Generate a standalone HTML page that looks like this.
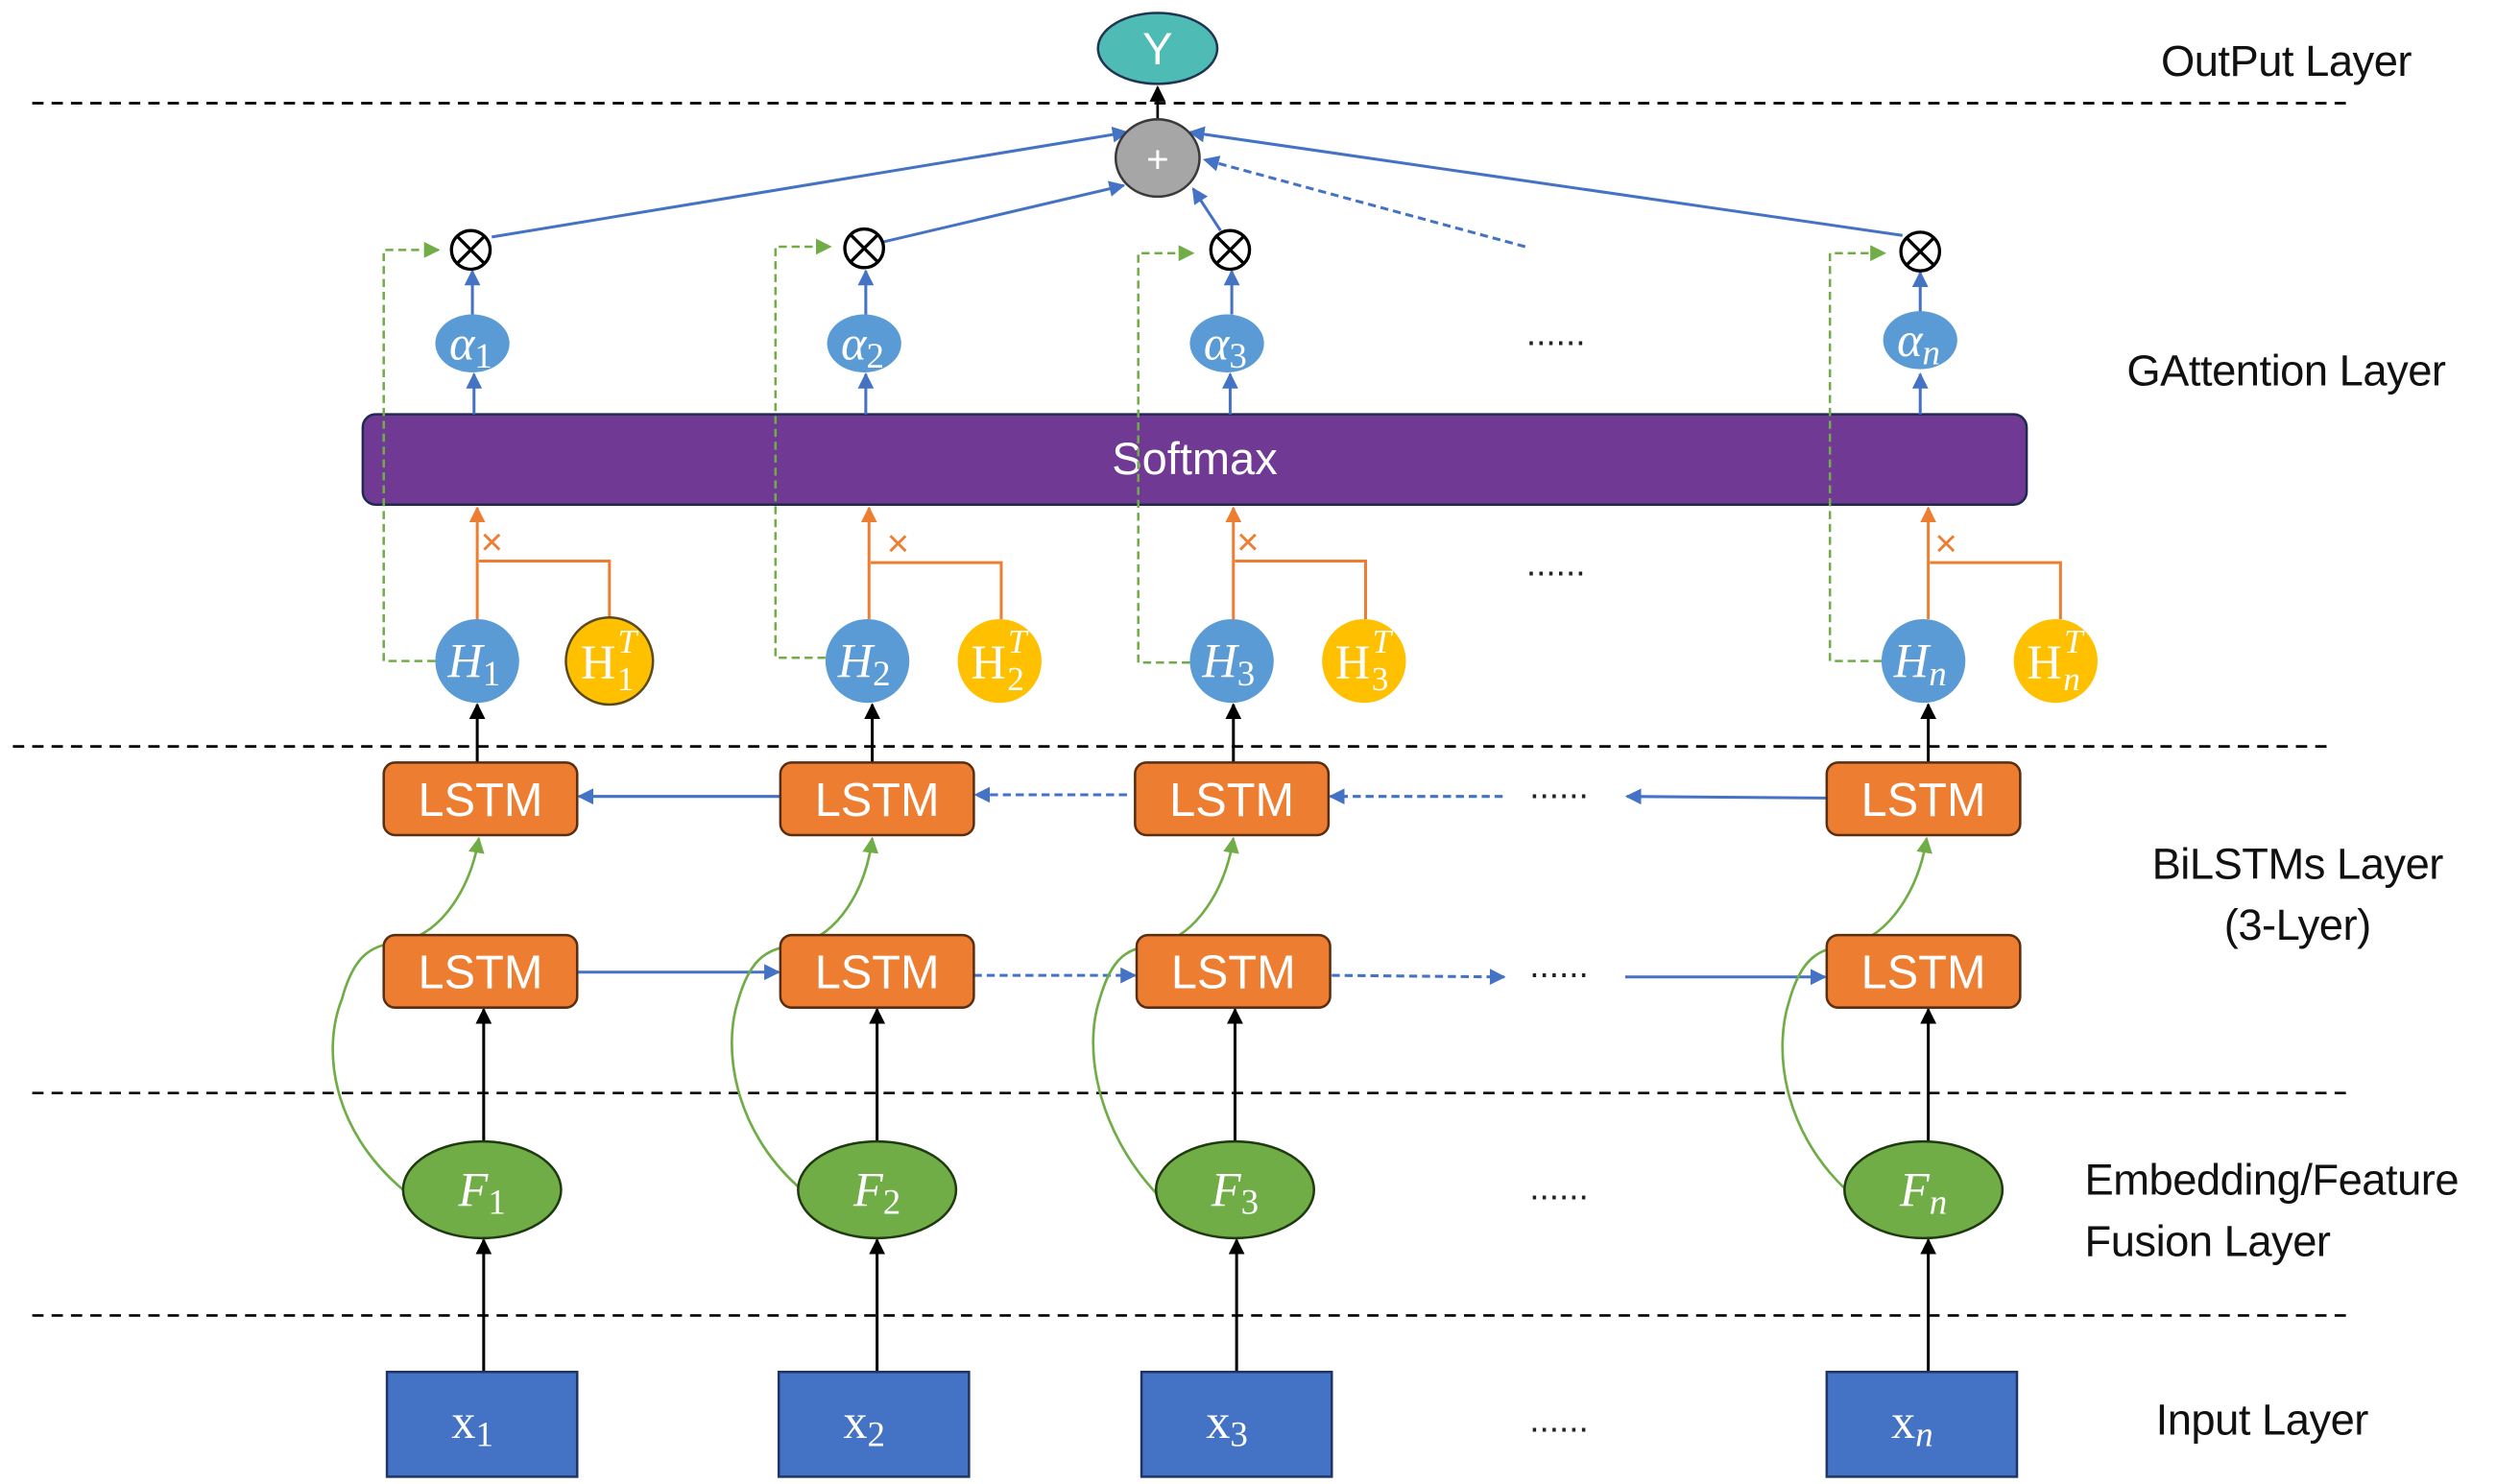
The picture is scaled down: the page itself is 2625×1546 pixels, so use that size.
<!DOCTYPE html>
<html><head><meta charset="utf-8"><style>
html,body{margin:0;padding:0;background:#fff;}
svg{display:block;}
text{font-family:"Liberation Sans","DejaVu Sans",sans-serif;}
.m{font-family:"Liberation Serif","DejaVu Serif",serif;font-style:italic;fill:#fff;}
.r{font-family:"Liberation Serif","DejaVu Serif",serif;fill:#fff;}
.lab{font-size:27px;fill:#111;letter-spacing:-0.3px;}
.dots{font-size:22px;fill:#222;}
.lstm{font-size:29px;fill:#fff;}
</style></head><body>
<svg width="2625" height="1546" viewBox="0 0 1563 920.5" xmlns="http://www.w3.org/2000/svg">
<defs>
<marker id="ak" markerWidth="10" markerHeight="10" refX="9" refY="5" orient="auto" markerUnits="userSpaceOnUse"><path d="M0,0 L10,5 L0,10 z" fill="#000"/></marker>
<marker id="ab" markerWidth="10" markerHeight="10" refX="9" refY="5" orient="auto" markerUnits="userSpaceOnUse"><path d="M0,0 L10,5 L0,10 z" fill="#4472c4"/></marker>
<marker id="ao" markerWidth="10" markerHeight="10" refX="9" refY="5" orient="auto" markerUnits="userSpaceOnUse"><path d="M0,0 L10,5 L0,10 z" fill="#ed7d31"/></marker>
<marker id="ag" markerWidth="10" markerHeight="10" refX="9" refY="5" orient="auto" markerUnits="userSpaceOnUse"><path d="M0,0 L10,5 L0,10 z" fill="#70ad47"/></marker>
</defs>
<g stroke="#000" stroke-width="1.6" stroke-dasharray="7,5">
<line x1="20" y1="64" x2="1460" y2="64"/>
<line x1="8" y1="463" x2="1448" y2="463"/>
<line x1="20" y1="678" x2="1460" y2="678"/>
<line x1="20" y1="816" x2="1460" y2="816"/>
</g>
<text class="lab" x="1418" y="47" text-anchor="middle">OutPut Layer</text>
<text class="lab" x="1418" y="239" text-anchor="middle">GAttention Layer</text>
<text class="lab" x="1425" y="545" text-anchor="middle">BiLSTMs Layer</text>
<text class="lab" x="1425" y="583" text-anchor="middle">(3-Lyer)</text>
<text class="lab" x="1293" y="741">Embedding/Feature</text>
<text class="lab" x="1293" y="779">Fusion Layer</text>
<text class="lab" x="1403" y="890" text-anchor="middle">Input Layer</text>
<g class="dots" text-anchor="middle">
<text x="965" y="214">......</text><text x="965" y="357">......</text>
<text x="967" y="495">......</text><text x="967" y="606">......</text>
<text x="967" y="744">......</text><text x="967" y="888">......</text>
</g>
<line x1="718" y1="74" x2="718" y2="54" stroke="#000" stroke-width="1.6" marker-end="url(#ak)"/>
<ellipse cx="718" cy="30" rx="37" ry="22" fill="#4fbbb5" stroke="#1f3552" stroke-width="1.5"/>
<text x="718" y="40" text-anchor="middle" font-size="28" fill="#fff">Y</text>
<g stroke="#4472c4" stroke-width="1.8" fill="none">
<line x1="305" y1="147" x2="699" y2="82" marker-end="url(#ab)"/>
<line x1="548" y1="150" x2="697" y2="115" marker-end="url(#ab)"/>
<line x1="757" y1="143" x2="740" y2="117" marker-end="url(#ab)"/>
<line x1="946" y1="153" x2="747" y2="99" stroke-dasharray="5,3" marker-end="url(#ab)"/>
<line x1="1180" y1="146" x2="738" y2="82" marker-end="url(#ab)"/>
</g>
<ellipse cx="718" cy="98" rx="26" ry="24" fill="#a6a6a6" stroke="#3a3a3a" stroke-width="1.5"/>
<text x="718" y="107" text-anchor="middle" font-size="24" fill="#fff">+</text>
<rect x="225" y="257" width="1032" height="56" rx="8" fill="#6f3994" stroke="#1f2a50" stroke-width="1.5"/>
<text x="741" y="294" text-anchor="middle" font-size="28" fill="#fff">Softmax</text>
<!-- col1 -->
<path d="M270,410 H238 V155 H272" fill="none" stroke="#70ad47" stroke-width="1.5" stroke-dasharray="5,3" marker-end="url(#ag)"/>
<line x1="293" y1="195" x2="293" y2="168" stroke="#4472c4" stroke-width="1.8" marker-end="url(#ab)"/>
<line x1="294" y1="257" x2="294" y2="232" stroke="#4472c4" stroke-width="1.8" marker-end="url(#ab)"/>
<circle cx="292" cy="155" r="12" fill="#fff" stroke="#000" stroke-width="2"/>
<path d="M283.5,146.5 L300.5,163.5 M300.5,146.5 L283.5,163.5" stroke="#000" stroke-width="2"/>
<ellipse cx="293" cy="213" rx="23" ry="18" fill="#5b9bd5"/>
<text class="m" x="292" y="223" text-anchor="middle" font-size="30">α<tspan font-size="22" font-style="normal" dy="5">1</tspan></text>
<line x1="296" y1="384" x2="296" y2="315" stroke="#ed7d31" stroke-width="1.8" marker-end="url(#ao)"/>
<path d="M297,348 H378 V384" fill="none" stroke="#ed7d31" stroke-width="1.8"/>
<text x="305" y="344" text-anchor="middle" font-size="24" fill="#ed7d31">×</text>
<ellipse cx="296" cy="410" rx="26" ry="26" fill="#5b9bd5"/>
<text class="m" x="294" y="420" text-anchor="middle" font-size="30">H<tspan font-size="22" font-style="normal" dy="5">1</tspan></text>
<ellipse cx="378" cy="410" rx="27" ry="27" fill="#ffc000" stroke="#5a4a20" stroke-width="1.5"/>
<text class="r" x="371" y="421" text-anchor="middle" font-size="30">H</text><text class="m" x="389" y="405" text-anchor="middle" font-size="21">T</text><text class="r" x="388" y="428" text-anchor="middle" font-size="21">1</text>
<!-- col2 -->
<path d="M512,408 H481 V153 H515" fill="none" stroke="#70ad47" stroke-width="1.5" stroke-dasharray="5,3" marker-end="url(#ag)"/>
<line x1="537" y1="195" x2="537" y2="168" stroke="#4472c4" stroke-width="1.8" marker-end="url(#ab)"/>
<line x1="537" y1="257" x2="537" y2="232" stroke="#4472c4" stroke-width="1.8" marker-end="url(#ab)"/>
<circle cx="536" cy="154" r="12" fill="#fff" stroke="#000" stroke-width="2"/>
<path d="M527.5,145.5 L544.5,162.5 M544.5,145.5 L527.5,162.5" stroke="#000" stroke-width="2"/>
<ellipse cx="536" cy="213" rx="23" ry="18" fill="#5b9bd5"/>
<text class="m" x="535" y="223" text-anchor="middle" font-size="30">α<tspan font-size="22" font-style="normal" dy="5">2</tspan></text>
<line x1="539" y1="384" x2="539" y2="315" stroke="#ed7d31" stroke-width="1.8" marker-end="url(#ao)"/>
<path d="M540,349 H621 V384" fill="none" stroke="#ed7d31" stroke-width="1.8"/>
<text x="557" y="345" text-anchor="middle" font-size="24" fill="#ed7d31">×</text>
<ellipse cx="538" cy="410" rx="26" ry="26" fill="#5b9bd5"/>
<text class="m" x="536" y="420" text-anchor="middle" font-size="30">H<tspan font-size="22" font-style="normal" dy="5">2</tspan></text>
<ellipse cx="620" cy="410" rx="26" ry="26" fill="#ffc000"/>
<text class="r" x="613" y="421" text-anchor="middle" font-size="30">H</text><text class="m" x="631" y="405" text-anchor="middle" font-size="21">T</text><text class="r" x="630" y="428" text-anchor="middle" font-size="21">2</text>
<!-- col3 -->
<path d="M738,411 H706 V157 H740" fill="none" stroke="#70ad47" stroke-width="1.5" stroke-dasharray="5,3" marker-end="url(#ag)"/>
<line x1="764" y1="195" x2="764" y2="168" stroke="#4472c4" stroke-width="1.8" marker-end="url(#ab)"/>
<line x1="763" y1="257" x2="763" y2="232" stroke="#4472c4" stroke-width="1.8" marker-end="url(#ab)"/>
<circle cx="763" cy="155" r="12" fill="#fff" stroke="#000" stroke-width="2"/>
<path d="M754.5,146.5 L771.5,163.5 M771.5,146.5 L754.5,163.5" stroke="#000" stroke-width="2"/>
<ellipse cx="761" cy="213" rx="23" ry="18" fill="#5b9bd5"/>
<text class="m" x="760" y="223" text-anchor="middle" font-size="30">α<tspan font-size="22" font-style="normal" dy="5">3</tspan></text>
<line x1="765" y1="384" x2="765" y2="315" stroke="#ed7d31" stroke-width="1.8" marker-end="url(#ao)"/>
<path d="M766,348 H847 V384" fill="none" stroke="#ed7d31" stroke-width="1.8"/>
<text x="774" y="344" text-anchor="middle" font-size="24" fill="#ed7d31">×</text>
<ellipse cx="764" cy="410" rx="26" ry="26" fill="#5b9bd5"/>
<text class="m" x="762" y="420" text-anchor="middle" font-size="30">H<tspan font-size="22" font-style="normal" dy="5">3</tspan></text>
<ellipse cx="846" cy="410" rx="26" ry="26" fill="#ffc000"/>
<text class="r" x="839" y="421" text-anchor="middle" font-size="30">H</text><text class="m" x="857" y="405" text-anchor="middle" font-size="21">T</text><text class="r" x="856" y="428" text-anchor="middle" font-size="21">3</text>
<!-- col n -->
<path d="M1167,410 H1135 V157 H1169" fill="none" stroke="#70ad47" stroke-width="1.5" stroke-dasharray="5,3" marker-end="url(#ag)"/>
<line x1="1191" y1="195" x2="1191" y2="169" stroke="#4472c4" stroke-width="1.8" marker-end="url(#ab)"/>
<line x1="1191" y1="257" x2="1191" y2="232" stroke="#4472c4" stroke-width="1.8" marker-end="url(#ab)"/>
<circle cx="1191" cy="156" r="12" fill="#fff" stroke="#000" stroke-width="2"/>
<path d="M1182.5,147.5 L1199.5,164.5 M1199.5,147.5 L1182.5,164.5" stroke="#000" stroke-width="2"/>
<ellipse cx="1191" cy="211" rx="23" ry="18" fill="#5b9bd5"/>
<text class="m" x="1190" y="221" text-anchor="middle" font-size="30">α<tspan font-size="22" dy="5">n</tspan></text>
<line x1="1196" y1="384" x2="1196" y2="315" stroke="#ed7d31" stroke-width="1.8" marker-end="url(#ao)"/>
<path d="M1197,349 H1278 V384" fill="none" stroke="#ed7d31" stroke-width="1.8"/>
<text x="1207" y="345" text-anchor="middle" font-size="24" fill="#ed7d31">×</text>
<ellipse cx="1193" cy="410" rx="26" ry="26" fill="#5b9bd5"/>
<text class="m" x="1191" y="420" text-anchor="middle" font-size="30">H<tspan font-size="22" dy="5">n</tspan></text>
<ellipse cx="1275" cy="410" rx="26" ry="26" fill="#ffc000"/>
<text class="r" x="1268" y="421" text-anchor="middle" font-size="30">H</text><text class="m" x="1286" y="405" text-anchor="middle" font-size="21">T</text><text class="m" x="1285" y="428" text-anchor="middle" font-size="21">n</text>
<g stroke="#000" stroke-width="1.8" marker-end="url(#ak)">
<line x1="296" y1="473" x2="296" y2="437"/><line x1="541" y1="473" x2="541" y2="437"/>
<line x1="765" y1="473" x2="765" y2="437"/><line x1="1196" y1="473" x2="1196" y2="437"/>
<line x1="300" y1="708" x2="300" y2="626"/><line x1="544" y1="708" x2="544" y2="626"/>
<line x1="766" y1="708" x2="766" y2="626"/><line x1="1196" y1="708" x2="1196" y2="626"/>
<line x1="300" y1="851" x2="300" y2="769"/><line x1="544" y1="851" x2="544" y2="769"/>
<line x1="767" y1="851" x2="767" y2="769"/><line x1="1196" y1="851" x2="1196" y2="769"/>
</g>
<g stroke="#4472c4" stroke-width="1.8" fill="none" marker-end="url(#ab)">
<line x1="484" y1="494" x2="359" y2="494"/>
<line x1="699" y1="493" x2="605" y2="493" stroke-dasharray="5,3"/>
<line x1="932" y1="494" x2="825" y2="494" stroke-dasharray="5,3"/>
<line x1="1133" y1="495" x2="1009" y2="494"/>
<line x1="358" y1="603" x2="483" y2="603"/>
<line x1="604" y1="605" x2="704" y2="605" stroke-dasharray="5,3"/>
<line x1="826" y1="605" x2="933" y2="606" stroke-dasharray="5,3"/>
<line x1="1008" y1="606" x2="1132" y2="606"/>
</g>
<g stroke="#70ad47" stroke-width="1.6" fill="none" marker-end="url(#ag)">
<path d="M250,738 C205,700 200,650 212,620 C220,590 232,586 250,584 C275,578 292,550 297,520"/>
<path d="M495,736 C455,700 448,650 458,620 C466,592 478,588 495,586 C520,580 537,552 541,520"/>
<path d="M717,740 C680,700 672,650 682,620 C690,592 700,588 718,586 C742,580 760,552 765,520"/>
<path d="M1145,738 C1105,700 1100,650 1110,620 C1118,592 1130,588 1148,586 C1172,580 1190,552 1195,520"/>
</g>
<g fill="#ed7d31" stroke="#5a2e10" stroke-width="1.5">
<rect x="238" y="473" width="120" height="45" rx="7"/><rect x="484" y="473" width="120" height="45" rx="7"/>
<rect x="704" y="473" width="120" height="45" rx="7"/><rect x="1133" y="473" width="120" height="45" rx="7"/>
<rect x="238" y="580" width="120" height="45" rx="7"/><rect x="484" y="580" width="120" height="45" rx="7"/>
<rect x="705" y="580" width="120" height="45" rx="7"/><rect x="1133" y="580" width="120" height="45" rx="7"/>
</g>
<g class="lstm" text-anchor="middle">
<text x="298" y="506">LSTM</text><text x="544" y="506">LSTM</text><text x="764" y="506">LSTM</text><text x="1193" y="506">LSTM</text>
<text x="298" y="613">LSTM</text><text x="544" y="613">LSTM</text><text x="765" y="613">LSTM</text><text x="1193" y="613">LSTM</text>
</g>
<g fill="#70ad47" stroke="#1f3a10" stroke-width="1.5">
<ellipse cx="299" cy="738" rx="49" ry="30"/><ellipse cx="544" cy="738" rx="49" ry="30"/>
<ellipse cx="766" cy="738" rx="49" ry="30"/><ellipse cx="1193" cy="738" rx="49" ry="30"/>
</g>
<text class="m" x="299" y="748" text-anchor="middle" font-size="30">F<tspan font-size="22" font-style="normal" dy="5">1</tspan></text>
<text class="m" x="544" y="748" text-anchor="middle" font-size="30">F<tspan font-size="22" font-style="normal" dy="5">2</tspan></text>
<text class="m" x="766" y="748" text-anchor="middle" font-size="30">F<tspan font-size="22" font-style="normal" dy="5">3</tspan></text>
<text class="m" x="1193" y="748" text-anchor="middle" font-size="30">F<tspan font-size="22" dy="5">n</tspan></text>
<g fill="#4472c4" stroke="#1f3566" stroke-width="1.5">
<rect x="240" y="851" width="118" height="65"/><rect x="483" y="851" width="118" height="65"/>
<rect x="708" y="851" width="118" height="65"/><rect x="1133" y="851" width="118" height="65"/>
</g>
<text class="r" x="293" y="892" text-anchor="middle" font-size="30">x<tspan font-size="22" dy="5">1</tspan></text>
<text class="r" x="536" y="892" text-anchor="middle" font-size="30">x<tspan font-size="22" dy="5">2</tspan></text>
<text class="r" x="761" y="892" text-anchor="middle" font-size="30">x<tspan font-size="22" dy="5">3</tspan></text>
<text class="r" x="1186" y="892" text-anchor="middle" font-size="30">x<tspan font-size="22" font-style="italic" dy="5">n</tspan></text>
</svg>
</body></html>
